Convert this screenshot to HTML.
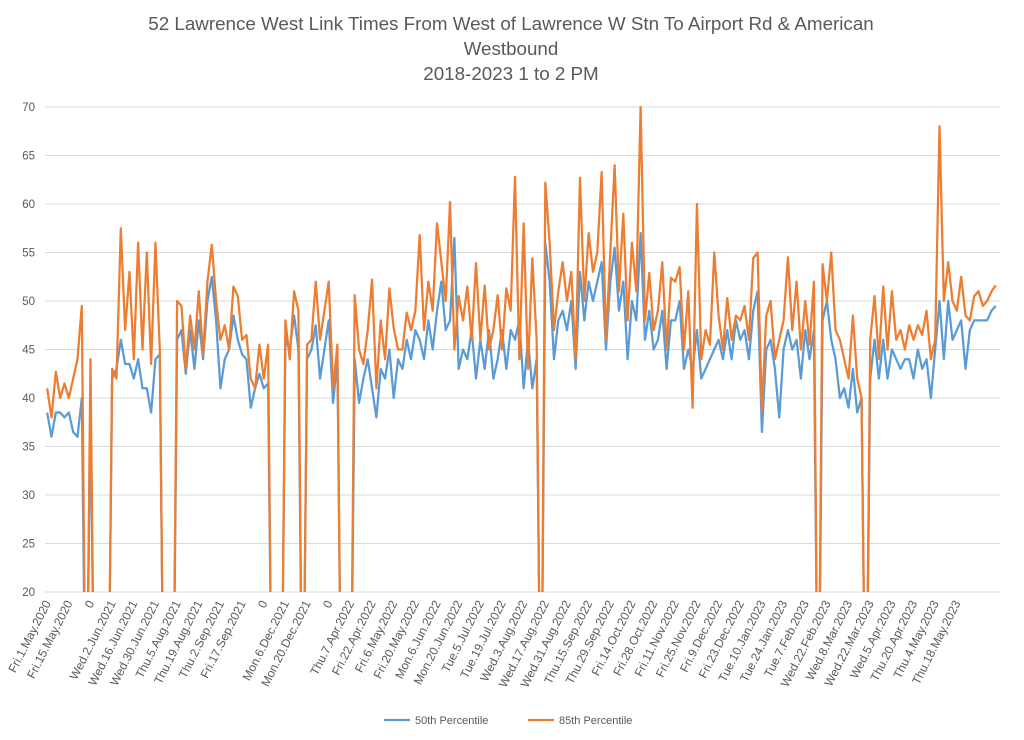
<!DOCTYPE html>
<html><head><meta charset="utf-8"><style>
html,body{margin:0;padding:0;background:#fff;width:1024px;height:740px;overflow:hidden;}
svg{display:block;font-family:"Liberation Sans",Arial,sans-serif;}
</style></head><body>
<svg id="chart" width="1024" height="740" viewBox="0 0 1024 740">
<g fill="#595959" font-size="18.8" text-anchor="middle">
<text x="511" y="30">52 Lawrence West Link Times From West of Lawrence W Stn To Airport Rd &amp; American</text>
<text x="511" y="55">Westbound</text>
<text x="511" y="80">2018-2023 1 to 2 PM</text>
</g>
<g id="grid"></g>
<g id="yaxis"></g>
<g id="xaxis"></g>
<defs><clipPath id="pc"><rect x="40" y="95" width="965" height="497"/></clipPath></defs>
<g id="series" clip-path="url(#pc)"></g>
<g font-size="11" fill="#595959">
<g><line x1="384" y1="720" x2="410" y2="720" stroke="#5b9bd5" stroke-width="2.25"/><text x="415" y="724">50th Percentile</text></g>
<g><line x1="528" y1="720" x2="554" y2="720" stroke="#ed7d31" stroke-width="2.25"/><text x="559" y="724">85th Percentile</text></g>
</g>
</svg>
<script>
const tickLabels = ["Fri.1.May.2020","Fri.15.May.2020","0","Wed.2.Jun.2021","Wed.16.Jun.2021","Wed.30.Jun.2021","Thu.5.Aug.2021","Thu.19.Aug.2021","Thu.2.Sep.2021","Fri.17.Sep.2021","0","Mon.6.Dec.2021","Mon.20.Dec.2021","0","Thu.7.Apr.2022","Fri.22.Apr.2022","Fri.6.May.2022","Fri.20.May.2022","Mon.6.Jun.2022","Mon.20.Jun.2022","Tue.5.Jul.2022","Tue.19.Jul.2022","Wed.3.Aug.2022","Wed.17.Aug.2022","Wed.31.Aug.2022","Thu.15.Sep.2022","Thu.29.Sep.2022","Fri.14.Oct.2022","Fri.28.Oct.2022","Fri.11.Nov.2022","Fri.25.Nov.2022","Fri.9.Dec.2022","Fri.23.Dec.2022","Tue.10.Jan.2023","Tue.24.Jan.2023","Tue.7.Feb.2023","Wed.22.Feb.2023","Wed.8.Mar.2023","Wed.22.Mar.2023","Wed.5.Apr.2023","Thu.20.Apr.2023","Thu.4.May.2023","Thu.18.May.2023"];
const yTicks = [20,25,30,35,40,45,50,55,60,65,70];
const p85 = [41,38,42.7,40,41.5,40,42,44,49.5,0,
44,0,0,0,0,
43,42,57.5,47,53,44,56,45,55,43.5,56,45,
0,0,0,
50,49.5,43,48.5,45,51,44.5,52,55.8,50,46,47.5,45,51.5,50.5,46,46.5,42,41,45.5,42,45.5,
0,0,0,
48,44,51,49,0,
45.5,46,52,46,49,52,41,45.5,
0,0,0,
50.6,45,43.5,47,52.2,41,48,44,51.3,47.2,45,45,48.8,47,49,56.8,47,52,49,58,54,50,60.2,45,50.5,48,51.5,46,53.9,46,51.6,45,47,50.6,45,51.3,49,62.8,44,58,43,54.4,46,
0,
62.2,56,47,51,54,50,53,44,62.7,50,57,53,55,63.3,46,55,64,51,59,48,56,51,70,48,52.9,47,49,54,45,52.4,
52,53.5,45,51,39,60,44,47,45.5,55,48.5,45,50.3,46,48.5,48,49.5,46,54.4,55,38.7,48.5,50,44,46,48,54.5,47,52,45,50,45.5,52,0,53.8,50,55,47,46,44,42,48.5,42,40,0,46,50.5,44,51.5,45,51,46,47,45,47.5,46,47.5,46.5,49,44,46,68,50,54,50,49,52.5,48.5,48,50.5,51,49.5,50,51,51.6];
const p50 = [38.5,36,38.5,38.5,38,38.5,36.5,36,40,0,
40,0,0,0,0,
42,43,46,43.5,43.5,42,44,41,41,38.5,44,44.5,
0,0,0,
46,47,42.5,47,43,48,44,50,52.5,48,41,44,45,48.5,46,44.5,44,39,41,42.5,41,41.5,
0,0,0,
46,45,48.5,45,0,
44,45,47.5,42,45,48,39.5,44,
0,0,0,
44,39.5,42,44,41,38,43,42,45,40,44,43,46,44,47,46,44,48,45,49,52,47,48,56.5,43,45,44,47,42,46,43,47,42,44,47,43,47,46,48,41,46,41,44,
0,
56,52,44,48,49,47,50,43,53,48,52,50,52,54,45,52,55.5,49,52,44,50,48,57,46,49,45,46,49,43,48,
48,50,43,45,43,47,42,43,44,45,46,44,47,44,48,46,47,44,49,51,36.5,45,46,43,38,45,47,45,46,42,47,44,47,0,48,50,46,44,40,41,39,43,38.5,40,0,42,46,42,46,42,45,44,43,44,44,42,45,43,44,40,45,50,44,50,46,47,48,43,47,48,48,48,48,49,49.5];
const categories = p85.map((_, i) => i);

const NS = "http://www.w3.org/2000/svg";
const X0 = 45, X1 = 998, Y0 = 592, PX_PER = 9.7;
const N = categories.length;
const step = (X1 - X0) / N;
function xs(i){ return X0 + (i + 0.5) * step; }
function ys(v){ return Y0 - (v - 20) * PX_PER; }
function mk(tag, attrs){ const e = document.createElementNS(NS, tag); for (const k in attrs) e.setAttribute(k, attrs[k]); return e; }

const grid = document.getElementById('grid');
const yaxis = document.getElementById('yaxis');
yTicks.forEach(t => {
  const l = mk('line', {x1: X0, x2: 1000, y1: ys(t), y2: ys(t), stroke: '#d9d9d9', 'stroke-width': 1});
  
  
  grid.appendChild(l);
  const tx = mk('text', {x: 35, y: ys(t) + 4, 'text-anchor': 'end', 'font-size': 11.5, fill: '#595959'});
  tx.textContent = t;
  
  
  yaxis.appendChild(tx);
});

const xaxis = document.getElementById('xaxis');
tickLabels.forEach((lab, k) => {
  const x = xs(k * 5) + 4, y = 603;
  const tx = mk('text', {x: x, y: y, 'text-anchor': 'end', 'font-size': 12, fill: '#595959', transform: 'rotate(-63 ' + x + ' ' + y + ')'});
  tx.textContent = lab;
  
  
  xaxis.appendChild(tx);
});

const series = document.getElementById('series');
function drawLine(vals, color, name){
  const d = vals.map((v, i) => (i ? 'L' : 'M') + xs(i).toFixed(2) + ' ' + ys(v).toFixed(2)).join(' ');
  const p = mk('path', {d: d, fill: 'none', stroke: color, 'stroke-width': 2.25, 'stroke-linejoin': 'round'});
  
  
  series.appendChild(p);
}
drawLine(p50, '#5b9bd5', 'line-50th-percentile');
drawLine(p85, '#ed7d31', 'line-85th-percentile');
</script>
</body></html>
